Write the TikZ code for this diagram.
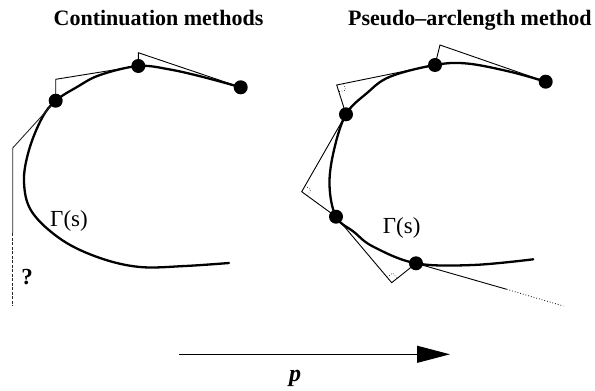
\documentclass[tikz,border=0pt]{standalone}
\usepackage{fontspec}
\setmainfont{Liberation Serif}
\usetikzlibrary{arrows.meta,calc}
\begin{document}
\begin{tikzpicture}[x=1pt,y=-1pt,
  curve/.style={line width=2.3pt,line join=round,line cap=round},
  thinline/.style={line width=0.9pt,line join=miter},
  dot/.style={circle,fill=black,inner sep=0pt,minimum size=14pt},
  lab/.style={font=\fontsize{23}{27}\selectfont},
  ttl/.style={font=\fontsize{22}{26}\selectfont\bfseries},
  ramark/.style={dotted,line width=0.6pt}]
\useasboundingbox (0,0) rectangle (595,391);

% ---------- titles ----------
\node[ttl,anchor=base] (t1) at (158.5,25.5) {Continuation methods};
\node[ttl,anchor=base west,inner sep=0pt] (t2) at (348,25.5) {Pseudo–arclength method};

% ---------- left panel ----------
\coordinate (A) at (55.7,100.7);
\coordinate (B) at (138.3,66);
\coordinate (C) at (240.7,87.3);
\coordinate (LA) at (55.7,79.3);
\coordinate (LB) at (138.3,52.7);
\coordinate (LK) at (12.7,148);
\coordinate (LV) at (12.7,233);
\coordinate (LE) at (12.7,306);

\draw[curve] plot[smooth,tension=0.6] coordinates {
 (240.7,87.3) (205,77.5) (170,69.5) (138.3,66) (100,75) (77,87) (55.7,100.7)
 (42,118) (29,150) (24,182) (32,212) (62,240) (100,258) (140,267) (185,266) (229,263)};

\draw[thinline] (A) -- (LA) -- (B);
\draw[thinline] (B) -- (LB) -- (C);
\draw[thinline,black!85] (A) -- (LK) -- (LV);
\draw[line width=1pt,black!85,dash pattern=on 3pt off 1.5pt] (LV) -- (LE);

\node[dot] (nA) at (A) {};
\node[dot] (nB) at (B) {};
\node[dot] (nC) at (C) {};

\node[lab] (g1) at (69,221) {Γ(s)};
\node[font=\fontsize{23}{27}\selectfont\bfseries] (q) at (27,277.5) {?};

% ---------- right panel ----------
\coordinate (D1) at (545.7,81.7);
\coordinate (D2) at (435,65);
\coordinate (D3) at (346,114.3);
\coordinate (D4) at (336,216.7);
\coordinate (D5) at (416,263.3);
\coordinate (P0) at (440,45);
\coordinate (P1) at (336.7,85);
\coordinate (P2) at (301.7,191.7);
\coordinate (P3) at (391.7,282.7);
\coordinate (E1) at (506.7,289.3);
\coordinate (E2) at (563.3,306);

\draw[curve] plot[smooth,tension=0.6] coordinates {
 (545.7,81.7) (510,71.7) (467,63.5) (435,65) (390,76.7) (366.7,93.3) (346,114.3)
 (334,150) (329.5,185) (336,216.7) (354,232) (373.3,246.7) (416,263.3) (473,265) (533.3,259.3)};

\draw[thinline] (D1) -- (P0) -- (D2);
\draw[thinline] (D2) -- (P1) -- (D3);
\draw[thinline] (D3) -- (P2) -- (D4);
\draw[thinline] (D4) -- (P3) -- (D5);
\draw[thinline] (D5) -- (E1);
\draw[line width=0.8pt,dotted] (E1) -- (E2);

% right-angle marks
\coordinate (a1) at ($(P1)!7pt!(D2)$);
\coordinate (c1) at ($(P1)!7pt!(D3)$);
\draw[ramark] (a1) -- ($(a1)+(c1)-(P1)$) -- (c1);
\coordinate (a2) at ($(P2)!7pt!(D3)$);
\coordinate (c2) at ($(P2)!7pt!(D4)$);
\draw[ramark] (a2) -- ($(a2)+(c2)-(P2)$) -- (c2);
\coordinate (a3) at ($(P3)!7pt!(D4)$);
\coordinate (c3) at ($(P3)!7pt!(D5)$);
\draw[ramark] (a3) -- ($(a3)+(c3)-(P3)$) -- (c3);

\node[dot] (nD1) at (D1) {};
\node[dot] (nD2) at (D2) {};
\node[dot] (nD3) at (D3) {};
\node[dot] (nD4) at (D4) {};
\node[dot] (nD5) at (D5) {};

\node[lab] (g2) at (401.7,227.5) {Γ(s)};

% ---------- parameter arrow ----------
\coordinate (ar1) at (179.3,354.3);
\coordinate (ar2) at (450,354.3);
\draw[line width=1pt,-{Triangle[length=33pt,width=17pt]}] (ar1) -- (ar2);
\node[font=\fontsize{24}{28}\selectfont\bfseries\itshape] (p) at (295,378.5) {p};
\end{tikzpicture}
\end{document}
